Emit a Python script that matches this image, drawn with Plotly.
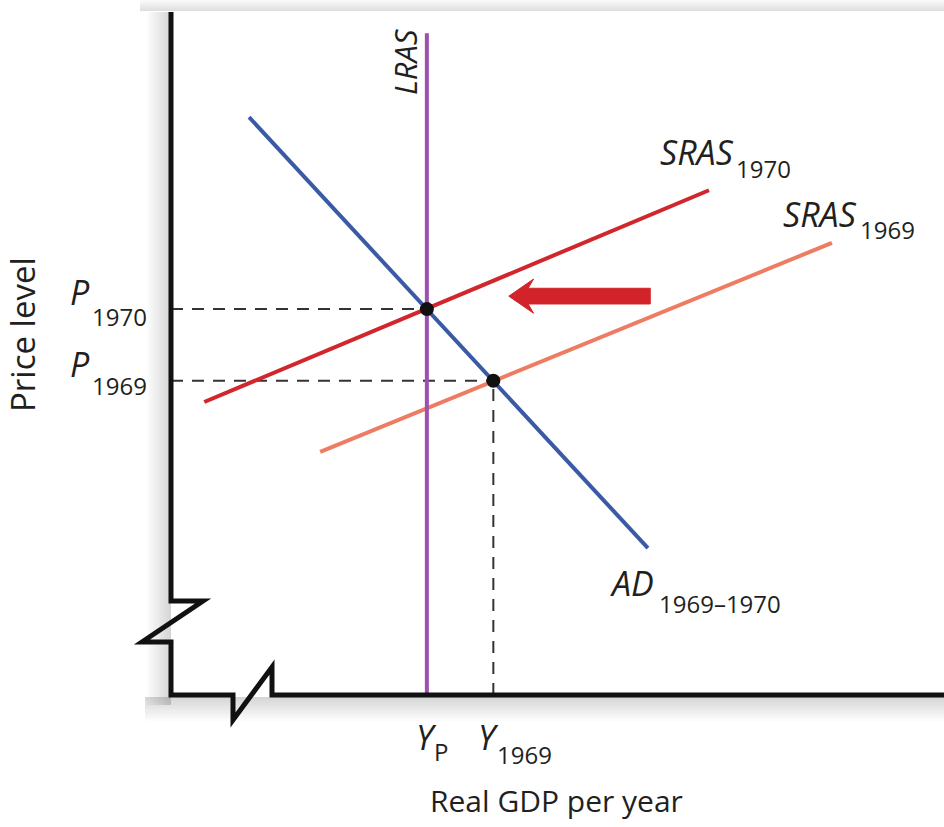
import plotly.graph_objects as go

# ---------------- data (abstract units, 0-100 on each axis) ----------------
lras_x = [33.1, 33.1]
lras_y = [0.0, 96.9]

ad_x = [10.1, 61.7]
ad_y = [84.6, 21.5]

sras1970_x = [4.3, 69.6]
sras1970_y = [42.9, 73.9]

sras1969_x = [19.3, 85.5]
sras1969_y = [35.6, 66.2]

# equilibria: (Y_P, P1970) and (Y1969, P1969)
eq_x = [33.1, 41.7]
eq_y = [56.5, 46.0]

# leftward shift arrow (tail x, tip x, y)
arrow_tail_x = 62.0
arrow_tip_x = 43.7
arrow_y = 58.4

# ---------------- layout helpers ----------------
W, H = 944, 827
PL, PR, PT, PB = 171, 944, 12, 695  # plot area in pixels


def ppx(x):
    return (x - PL) / (PR - PL)


def ppy(y):
    return (PB - y) / (PB - PT)


FONT = "Open Sans"
INK = "#231f20"
C_LRAS = "#9d50ad"
C_AD = "#3b5aa5"
C_S70 = "#d1262c"
C_S69 = "#ee7c62"
C_ARROW = "#d2232a"

fig = go.Figure()

# dashed guide lines
dash = dict(color="#333333", width=2, dash="12px,9px")
fig.add_trace(go.Scatter(x=[0, eq_x[0]], y=[eq_y[0], eq_y[0]], mode="lines", line=dash, hoverinfo="skip"))
fig.add_trace(go.Scatter(x=[0, eq_x[1]], y=[eq_y[1], eq_y[1]], mode="lines", line=dash, hoverinfo="skip"))
fig.add_trace(go.Scatter(x=[eq_x[1], eq_x[1]], y=[0, eq_y[1]], mode="lines", line=dash, hoverinfo="skip"))

# curves
fig.add_trace(go.Scatter(x=sras1969_x, y=sras1969_y, mode="lines", line=dict(color=C_S69, width=4), hoverinfo="skip"))
fig.add_trace(go.Scatter(x=sras1970_x, y=sras1970_y, mode="lines", line=dict(color=C_S70, width=4), hoverinfo="skip"))
fig.add_trace(go.Scatter(x=ad_x, y=ad_y, mode="lines", line=dict(color=C_AD, width=4), hoverinfo="skip"))
fig.add_trace(go.Scatter(x=lras_x, y=lras_y, mode="lines", line=dict(color=C_LRAS, width=4), hoverinfo="skip"))

# equilibrium dots
fig.add_trace(go.Scatter(x=eq_x, y=eq_y, mode="markers", marker=dict(color="#111111", size=14), hoverinfo="skip"))

shapes = []

# soft shadow around the frame
N = 12
for k in range(N):
    op = 0.16 * (1 - k / N)
    # left of vertical axis
    shapes.append(dict(type="rect", xref="paper", yref="paper",
                       x0=ppx(PL - 2 * (k + 1)), x1=ppx(PL - 2 * k), y0=ppy(705), y1=ppy(PT),
                       fillcolor="black", opacity=op, line_width=0, layer="below"))
    # above the top
    shapes.append(dict(type="rect", xref="paper", yref="paper",
                       x0=ppx(140), x1=ppx(944), y0=ppy(PT - 1 - k), y1=ppy(PT - 1 - (k + 1)),
                       fillcolor="black", opacity=op * 0.8, line_width=0, layer="below"))
    # below the horizontal axis
    shapes.append(dict(type="rect", xref="paper", yref="paper",
                       x0=ppx(145), x1=ppx(944), y0=ppy(PB + 2 + 2 * (k + 1)), y1=ppy(PB + 2 + 2 * k),
                       fillcolor="black", opacity=op, line_width=0, layer="below"))

# axis frame with break marks
frame_pts = [(171, PT), (171, 601), (203, 601), (142, 642), (171, 642), (171, 695),
             (233, 695), (233, 720), (272, 667), (272, 695), (944, 695)]
path = "M " + " L ".join(f"{ppx(a):.5f},{ppy(b):.5f}" for a, b in frame_pts)
shapes.append(dict(type="path", xref="paper", yref="paper", path=path,
                   line=dict(color="#111111", width=5)))

# arrow polygon (in data units)
head_len = 3.2
head_half = 2.5
barb = 0.7
shaft_half = 1.15
ax0, ax1, ay = arrow_tip_x, arrow_tail_x, arrow_y
arrow_pts = [(ax0, ay), (ax0 + head_len, ay + head_half), (ax0 + head_len - barb, ay + shaft_half),
             (ax1, ay + shaft_half), (ax1, ay - shaft_half), (ax0 + head_len - barb, ay - shaft_half),
             (ax0 + head_len, ay - head_half)]
apath = "M " + " L ".join(f"{a},{b}" for a, b in arrow_pts) + " Z"
shapes.append(dict(type="path", xref="x", yref="y", path=apath, fillcolor=C_ARROW,
                   line=dict(color=C_ARROW, width=1)))

annotations = []


def label(text, x, y, size, italic=False, xanchor="left", angle=0):
    t = f"<i>{text}</i>" if italic else text
    annotations.append(dict(text=t, x=ppx(x), y=ppy(y), xref="paper", yref="paper",
                            xanchor=xanchor, yanchor="middle", showarrow=False, textangle=angle,
                            borderpad=0,
                            font=dict(family=FONT, size=size, color=INK)))


MAIN, SUB = 34, 24
# SRAS 1970
label("SRAS", 659, 152, MAIN, True)
label("1970", 735, 168, SUB)
# SRAS 1969
label("SRAS", 782, 214, MAIN, True)
label("1969", 859, 230, SUB)
# AD
label("AD", 609, 583, MAIN, True)
label("1969\u20131970", 658, 603, SUB)
# LRAS
label("LRAS", 405, 62, 31, True, xanchor="center", angle=-90)
# price tick labels
label("P", 69, 292, MAIN, True)
label("1970", 91, 316, SUB)
label("P", 69, 364, MAIN, True)
label("1969", 91, 385, SUB)
# output tick labels
label("Y", 415, 737, MAIN, True)
label("P", 433, 751, SUB)
label("Y", 477, 737, MAIN, True)
label("1969", 496, 754, SUB)
# axis titles
label("Real GDP per year", 556, 800, 30, xanchor="center")
label("Price level", 22, 335, 33, xanchor="center", angle=-90)

fig.update_layout(
    width=W, height=H,
    margin=dict(l=PL, r=W - PR, t=PT, b=H - PB, pad=0),
    paper_bgcolor="white", plot_bgcolor="white",
    showlegend=False,
    xaxis=dict(range=[0, 100], visible=False, fixedrange=True),
    yaxis=dict(range=[0, 100], visible=False, fixedrange=True),
    shapes=shapes, annotations=annotations,
)

fig.write_html("out.html", config={"displayModeBar": False},
               post_script="document.body.style.margin='0';document.body.style.overflow='hidden';")
